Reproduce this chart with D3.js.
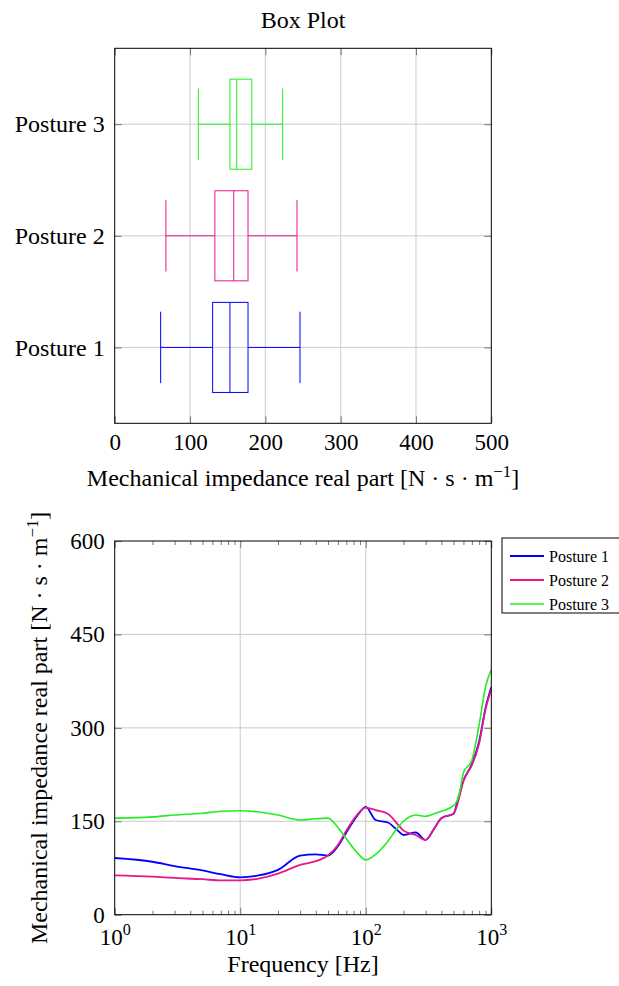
<!DOCTYPE html>
<html>
<head>
<meta charset="utf-8">
<script src="https://cdn.jsdelivr.net/npm/d3@7"></script>
<style>
body { margin: 0; background: #fff; }
svg { display: block; font-family: "Liberation Serif", "Times New Roman", serif; }
</style>
</head>
<body>
<svg id="chart" width="619" height="986"></svg>
<script>
// box plot data
const postures = ["Posture 1", "Posture 2", "Posture 3"];
const boxMin = [61, 68, 111];
const boxQ1 = [130, 133, 153];
const boxMedian = [153, 158, 162];
const boxQ3 = [177, 177, 182];
const boxMax = [246, 242, 223];
const boxTicks = [0, 100, 200, 300, 400, 500];

// frequency response data
const freq = [1, 2, 3, 5, 7, 10, 14, 20, 30, 40, 50, 60, 70, 85, 100, 120, 150, 180, 200, 250, 300, 350, 400, 500, 550, 600, 700, 800, 900, 1000];
const posture1 = [91, 85, 78, 71, 65, 60, 63, 72, 95, 97, 95, 110, 132, 158, 173, 152, 148, 135, 128, 132, 120, 138, 155, 162, 190, 215, 242, 278, 332, 365];
const posture2 = [63, 61, 59, 57, 55, 55, 58, 66, 80, 86, 95, 112, 135, 160, 172, 168, 162, 145, 135, 128, 120, 138, 155, 162, 185, 215, 240, 275, 330, 362];
const posture3 = [155, 157, 160, 163, 166, 167, 165, 160, 152, 154, 155, 140, 122, 100, 88, 97, 118, 140, 150, 160, 158, 162, 166, 175, 190, 228, 248, 305, 366, 393];
const impTicks = [0, 150, 300, 450, 600];
const freqTicks = [1, 10, 100, 1000];

const colors = ["#0000ff", "#e8178a", "#22ee22"];

const svg = d3.select("#chart");
const gridColor = "#cccccc";
const tickColor = "#777777";

// helper: append "... [N · s · m^-1]" label
function unitLabel(sel) {
  sel.append("tspan").text("Mechanical impedance real part [N · s · m");
  sel.append("tspan").attr("font-size", "0.7em").attr("dy", "-0.55em").text("−1");
  sel.append("tspan").attr("dy", "0.385em").text("]");
}

// ---------------- Box plot ----------------
const bx = d3.scaleLinear().domain([0, 500]).range([114.7, 491.3]);
const by = d3.scaleLinear().domain([0.32, 3.68]).range([423.3, 48.3]);
const boxG = svg.append("g");

boxG.append("text")
  .attr("x", (bx.range()[0] + bx.range()[1]) / 2)
  .attr("y", 28)
  .attr("text-anchor", "middle")
  .attr("font-size", 24)
  .text("Box Plot");

// grid
boxG.append("g").selectAll("line")
  .data(boxTicks.slice(1, -1))
  .join("line")
  .attr("x1", d => bx(d)).attr("x2", d => bx(d))
  .attr("y1", by.range()[0]).attr("y2", by.range()[1])
  .attr("stroke", gridColor);
boxG.append("g").selectAll("line")
  .data([1, 2, 3])
  .join("line")
  .attr("x1", bx.range()[0]).attr("x2", bx.range()[1])
  .attr("y1", d => by(d)).attr("y2", d => by(d))
  .attr("stroke", gridColor);

// axes
const bxAxis = boxG.append("g")
  .attr("transform", `translate(0,${by.range()[0]})`)
  .call(d3.axisBottom(bx).tickValues(boxTicks).tickSize(-7).tickPadding(10));
const bxAxisTop = boxG.append("g")
  .attr("transform", `translate(0,${by.range()[1]})`)
  .call(d3.axisTop(bx).tickValues(boxTicks).tickSize(-7).tickFormat(""));
const byAxis = boxG.append("g")
  .attr("transform", `translate(${bx.range()[0]},0)`)
  .call(d3.axisLeft(by).tickValues([1, 2, 3]).tickSize(-7).tickPadding(10).tickFormat(d => postures[d - 1]));
const byAxisRight = boxG.append("g")
  .attr("transform", `translate(${bx.range()[1]},0)`)
  .call(d3.axisRight(by).tickValues([1, 2, 3]).tickSize(-7).tickFormat(""));
[bxAxis, bxAxisTop, byAxis, byAxisRight].forEach(a => {
  a.select(".domain").remove();
  a.selectAll(".tick line").attr("stroke", tickColor);
  a.selectAll("text").attr("font-family", "Liberation Serif").attr("fill", "#000");
});
bxAxis.selectAll("text").attr("font-size", 23);
byAxis.selectAll("text").attr("font-size", 24);

boxG.append("rect")
  .attr("x", bx.range()[0]).attr("y", by.range()[1])
  .attr("width", bx.range()[1] - bx.range()[0])
  .attr("height", by.range()[0] - by.range()[1])
  .attr("fill", "none").attr("stroke", "#000");

boxG.append("text")
  .attr("x", (bx.range()[0] + bx.range()[1]) / 2)
  .attr("y", 486)
  .attr("text-anchor", "middle")
  .attr("font-size", 24)
  .call(unitLabel);

// boxes
const boxData = postures.map((p, i) => ({
  pos: i + 1, min: boxMin[i], q1: boxQ1[i], med: boxMedian[i], q3: boxQ3[i], max: boxMax[i], color: colors[i]
}));
const boxHalf = 0.4035, capHalf = 0.32;
const boxes = boxG.append("g").selectAll("g").data(boxData).join("g")
  .attr("stroke", d => d.color).attr("fill", "none").attr("stroke-width", 1);
boxes.append("line")
  .attr("x1", d => bx(d.min)).attr("x2", d => bx(d.q1))
  .attr("y1", d => by(d.pos)).attr("y2", d => by(d.pos));
boxes.append("line")
  .attr("x1", d => bx(d.q3)).attr("x2", d => bx(d.max))
  .attr("y1", d => by(d.pos)).attr("y2", d => by(d.pos));
boxes.append("line")
  .attr("x1", d => bx(d.min)).attr("x2", d => bx(d.min))
  .attr("y1", d => by(d.pos - capHalf)).attr("y2", d => by(d.pos + capHalf));
boxes.append("line")
  .attr("x1", d => bx(d.max)).attr("x2", d => bx(d.max))
  .attr("y1", d => by(d.pos - capHalf)).attr("y2", d => by(d.pos + capHalf));
boxes.append("rect")
  .attr("x", d => bx(d.q1)).attr("width", d => bx(d.q3) - bx(d.q1))
  .attr("y", d => by(d.pos + boxHalf)).attr("height", d => by(d.pos - boxHalf) - by(d.pos + boxHalf));
boxes.append("line")
  .attr("x1", d => bx(d.med)).attr("x2", d => bx(d.med))
  .attr("y1", d => by(d.pos - boxHalf)).attr("y2", d => by(d.pos + boxHalf));

// ---------------- Frequency response ----------------
const fx = d3.scaleLog().domain([1, 1000]).range([114.7, 491.3]);
const fy = d3.scaleLinear().domain([0, 600]).range([914.7, 541]);
const bot = svg.append("g");

bot.append("g").selectAll("line")
  .data([10, 100])
  .join("line")
  .attr("x1", d => fx(d)).attr("x2", d => fx(d))
  .attr("y1", fy.range()[0]).attr("y2", fy.range()[1])
  .attr("stroke", gridColor);
bot.append("g").selectAll("line")
  .data([150, 300, 450])
  .join("line")
  .attr("x1", fx.range()[0]).attr("x2", fx.range()[1])
  .attr("y1", d => fy(d)).attr("y2", d => fy(d))
  .attr("stroke", gridColor);

const minorTicks = fx.ticks().filter(d => !freqTicks.includes(d));
function logTicks(axisFn, y) {
  const g = bot.append("g").attr("transform", `translate(0,${y})`);
  g.append("g").call(axisFn(fx).tickValues(minorTicks).tickSize(-4).tickFormat(""));
  const major = g.append("g").call(axisFn(fx).tickValues(freqTicks).tickSize(-7).tickPadding(12).tickFormat(""));
  g.selectAll(".domain").remove();
  g.selectAll(".tick line").attr("stroke", tickColor);
  return major;
}
const fxMajor = logTicks(d3.axisBottom, fy.range()[0]);
logTicks(d3.axisTop, fy.range()[1]);
fxMajor.selectAll(".tick text")
  .attr("font-size", 23)
  .attr("font-family", "Liberation Serif")
  .attr("fill", "#000")
  .attr("dy", "0.78em")
  .each(function(d) {
    const t = d3.select(this);
    t.append("tspan").text("10");
    t.append("tspan").attr("font-size", "0.7em").attr("dy", "-0.6em").text(Math.round(Math.log10(d)));
  });

const fyAxis = bot.append("g")
  .attr("transform", `translate(${fx.range()[0]},0)`)
  .call(d3.axisLeft(fy).tickValues(impTicks).tickSize(-7).tickPadding(10));
const fyAxisRight = bot.append("g")
  .attr("transform", `translate(${fx.range()[1]},0)`)
  .call(d3.axisRight(fy).tickValues(impTicks).tickSize(-7).tickFormat(""));
[fyAxis, fyAxisRight].forEach(a => {
  a.select(".domain").remove();
  a.selectAll(".tick line").attr("stroke", tickColor);
});
fyAxis.selectAll("text").attr("font-size", 23).attr("font-family", "Liberation Serif").attr("fill", "#000");

// curves
svg.append("defs").append("clipPath").attr("id", "plotclip")
  .append("rect")
  .attr("x", fx.range()[0]).attr("y", fy.range()[1])
  .attr("width", fx.range()[1] - fx.range()[0])
  .attr("height", fy.range()[0] - fy.range()[1]);
const series = [posture1, posture2, posture3];
const line = d3.line()
  .x(d => fx(d[0]))
  .y(d => fy(d[1]))
  .curve(d3.curveMonotoneX);
const widths = [1.8, 1.8, 1.6];
bot.append("g").attr("clip-path", "url(#plotclip)")
  .selectAll("path")
  .data(series)
  .join("path")
  .attr("d", s => line(freq.map((f, i) => [f, s[i]])))
  .attr("fill", "none")
  .attr("stroke", (s, i) => colors[i])
  .attr("stroke-width", (s, i) => widths[i]);

bot.append("rect")
  .attr("x", fx.range()[0]).attr("y", fy.range()[1])
  .attr("width", fx.range()[1] - fx.range()[0])
  .attr("height", fy.range()[0] - fy.range()[1])
  .attr("fill", "none").attr("stroke", "#000");

bot.append("text")
  .attr("x", (fx.range()[0] + fx.range()[1]) / 2)
  .attr("y", 972)
  .attr("text-anchor", "middle")
  .attr("font-size", 24)
  .text("Frequency [Hz]");

bot.append("text")
  .attr("transform", `translate(47,${(fy.range()[0] + fy.range()[1]) / 2}) rotate(-90)`)
  .attr("text-anchor", "middle")
  .attr("font-size", 24)
  .call(unitLabel);

// legend
const legend = bot.append("g").attr("transform", "translate(502,538)");
legend.append("rect")
  .attr("width", 130).attr("height", 75)
  .attr("fill", "#fff").attr("stroke", "#000");
const rows = legend.selectAll("g").data(postures).join("g")
  .attr("transform", (d, i) => `translate(0,${18 + i * 24})`);
rows.append("line")
  .attr("x1", 8).attr("x2", 42)
  .attr("stroke", (d, i) => colors[i])
  .attr("stroke-width", (d, i) => widths[i]);
rows.append("text")
  .attr("x", 47).attr("dy", "0.35em")
  .attr("font-size", 16)
  .text(d => d);
</script>
</body>
</html>
